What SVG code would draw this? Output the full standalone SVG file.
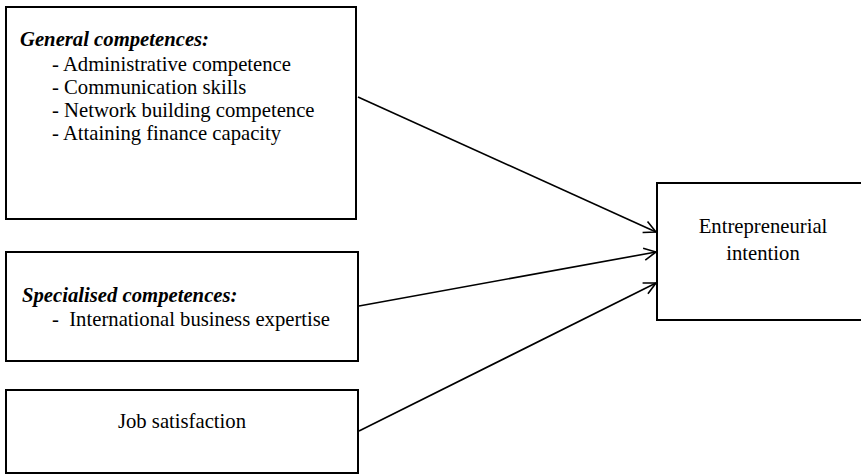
<svg xmlns="http://www.w3.org/2000/svg" width="861" height="475" viewBox="0 0 861 475">
<defs>
<style>
.box{fill:#fff;stroke:#000;stroke-width:2}
.t{font-family:"Liberation Serif","Times New Roman",serif;font-size:20.7px;fill:#000}
.h{font-weight:bold;font-style:italic}
.c{stroke:#000;stroke-width:1.6;fill:none}
</style>
<marker id="ar" markerWidth="14" markerHeight="14" refX="13" refY="7" orient="auto" markerUnits="userSpaceOnUse">
<path d="M1,1 L13,7 L1,13" fill="none" stroke="#000" stroke-width="1.6"/>
</marker>
</defs>
<rect width="861" height="475" fill="#fff"/>
<g id="general">
<rect class="box" x="6" y="7" width="350" height="212"/>
<text class="t h" x="20" y="46">General competences:</text>
<text class="t" x="52" y="71">- Administrative competence</text>
<text class="t" x="52" y="94">- Communication skills</text>
<text class="t" x="52" y="117">- Network building competence</text>
<text class="t" x="52" y="140">- Attaining finance capacity</text>
</g>
<g id="specialised">
<rect class="box" x="6" y="252" width="352" height="109"/>
<text class="t h" x="22" y="302">Specialised competences:</text>
<text class="t" x="52" y="326" xml:space="preserve">-  International business expertise</text>
</g>
<g id="job">
<rect class="box" x="6" y="390" width="352" height="83"/>
<text class="t" x="182" y="428" text-anchor="middle">Job satisfaction</text>
</g>
<g id="intention">
<rect class="box" x="657" y="183" width="214" height="137"/>
<text class="t" x="763" y="233" text-anchor="middle">Entrepreneurial</text>
<text class="t" x="763" y="260" text-anchor="middle">intention</text>
</g>
<g id="connectors">
<line class="c" x1="358" y1="97" x2="656" y2="232" marker-end="url(#ar)"/>
<line class="c" x1="359" y1="306" x2="656" y2="252" marker-end="url(#ar)"/>
<line class="c" x1="359" y1="431" x2="656" y2="283" marker-end="url(#ar)"/>
</g>
</svg>
